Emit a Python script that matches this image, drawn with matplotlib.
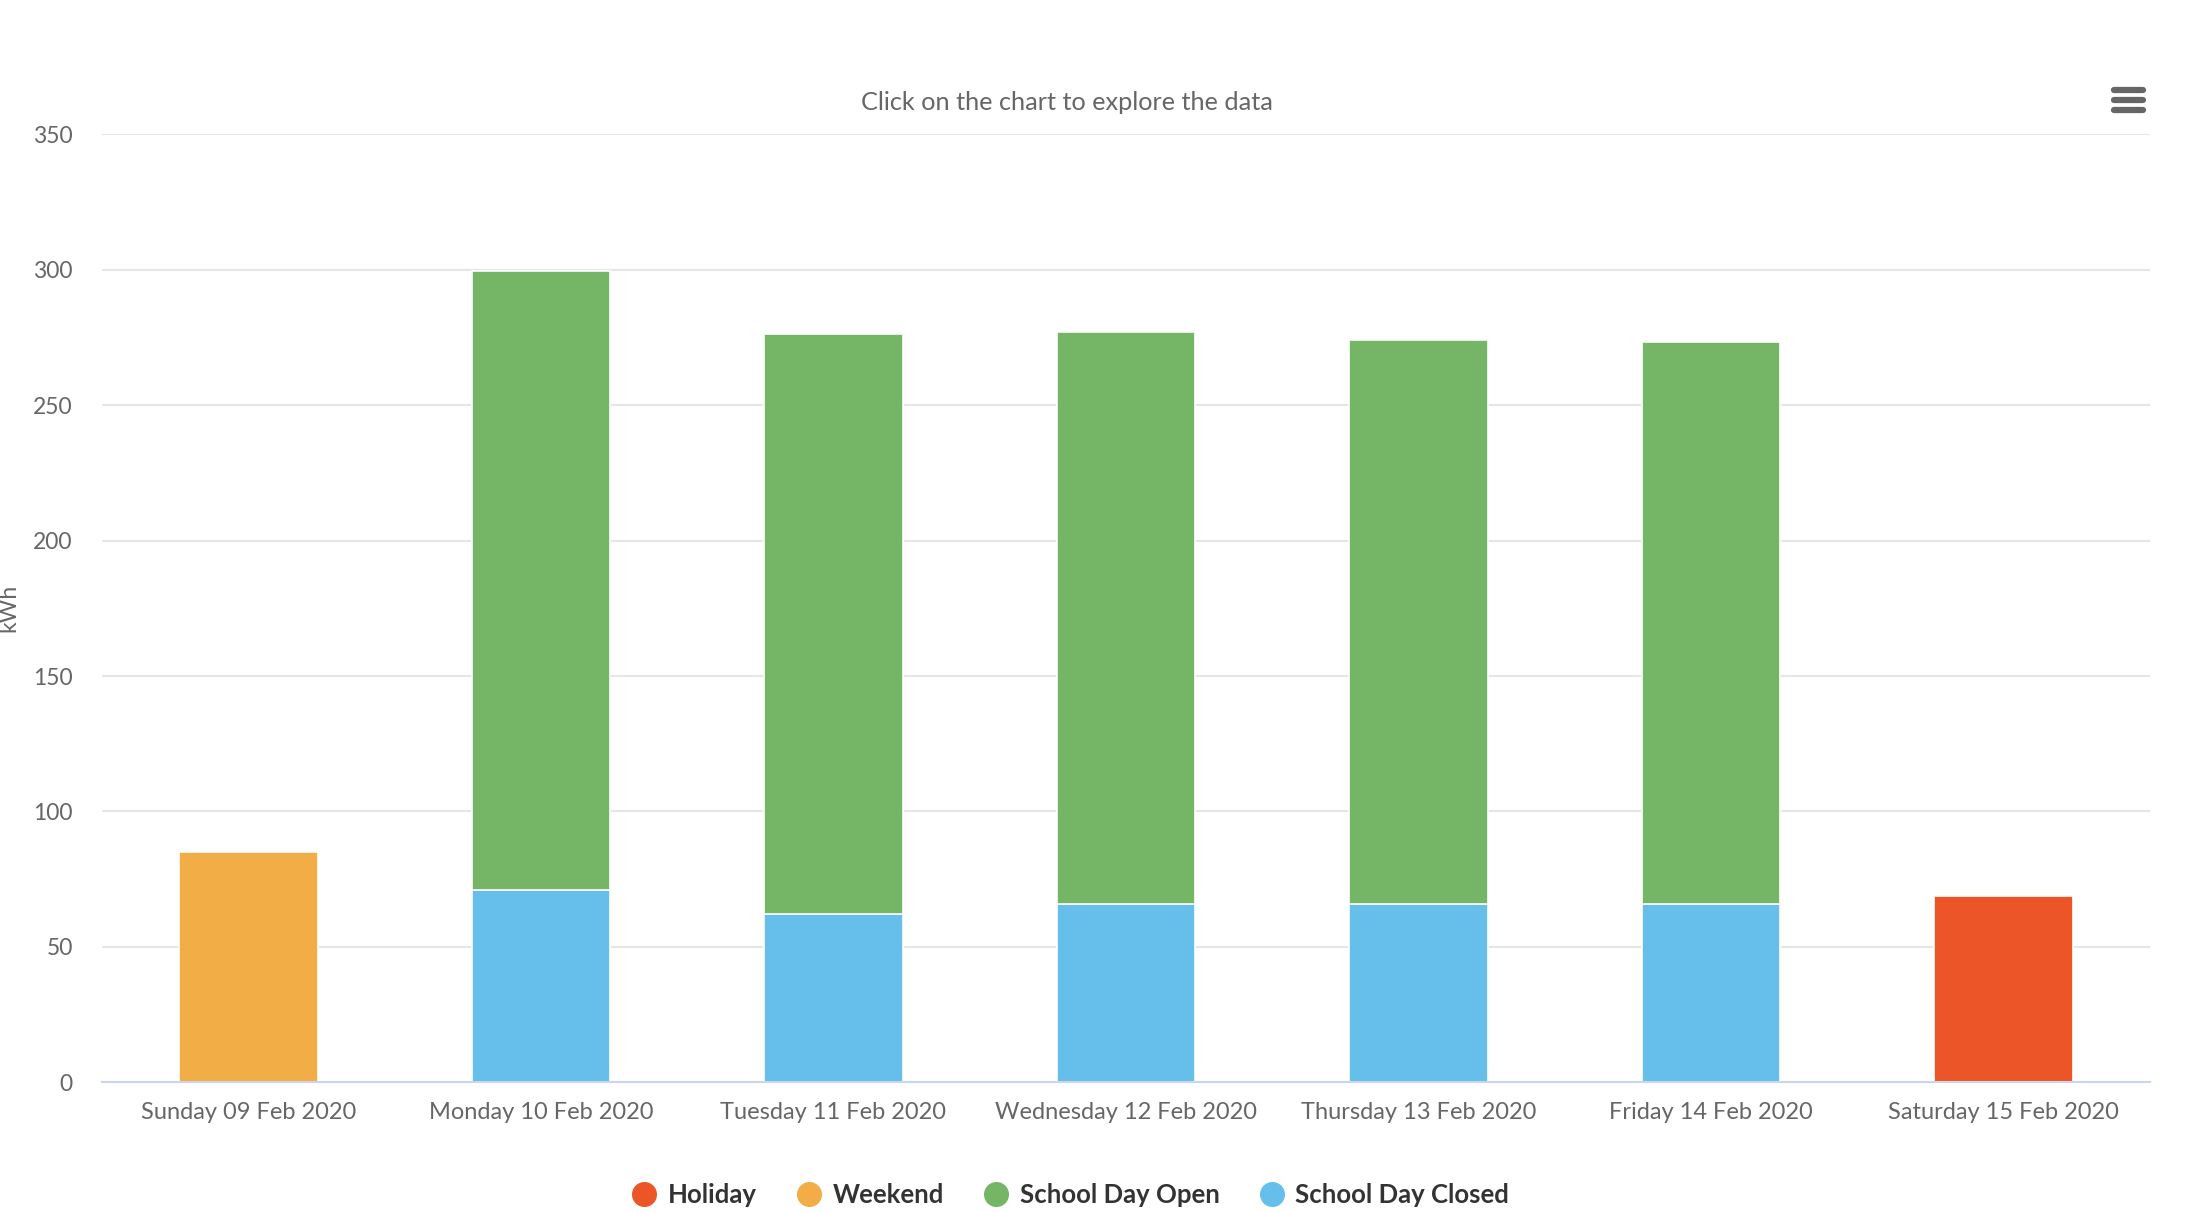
import matplotlib
matplotlib.use("Agg")
import matplotlib.pyplot as plt
from matplotlib.lines import Line2D
import numpy as np

# ---- data ----
categories = ["Sunday 09 Feb 2020", "Monday 10 Feb 2020", "Tuesday 11 Feb 2020",
              "Wednesday 12 Feb 2020", "Thursday 13 Feb 2020", "Friday 14 Feb 2020",
              "Saturday 15 Feb 2020"]
holiday = [0, 0, 0, 0, 0, 0, 68.6]
weekend = [85.2, 0, 0, 0, 0, 0, 0]
school_day_closed = [0, 71.0, 62.2, 65.8, 65.8, 65.8, 0]
school_day_open = [0, 228.6, 214.2, 211.2, 208.2, 207.6, 0]
y_ticks = [0, 50, 100, 150, 200, 250, 300, 350]

series_names = ["Holiday", "Weekend", "School Day Open", "School Day Closed"]
colors = {"Holiday": "#ec5527", "Weekend": "#f3ad46",
          "School Day Open": "#74b665", "School Day Closed": "#66bfeb"}

plt.rcParams['font.family'] = ['Lato', 'DejaVu Sans']

W, H = 2194, 1212
fig = plt.figure(figsize=(W / 100, H / 100), dpi=100)
ax = fig.add_axes([102 / W, 1 - 1082.3 / H, (2150 - 102) / W, (1082.3 - 134.3) / H])

x = np.arange(len(categories))
bw = 0.474
edge = dict(edgecolor="white", linewidth=1.2)

closed = np.array(school_day_closed)
ax.bar(x, closed, bw, color=colors["School Day Closed"], zorder=3, **edge)
ax.bar(x, school_day_open, bw, bottom=closed, color=colors["School Day Open"], zorder=3, **edge)
ax.bar(x, weekend, bw, color=colors["Weekend"], zorder=3, **edge)
ax.bar(x, holiday, bw, color=colors["Holiday"], zorder=3, **edge)

ax.set_xlim(-0.5, len(categories) - 0.5)
ax.set_ylim(0, 350)
ax.set_yticks(y_ticks)
ax.set_xticks(x)
ax.set_xticklabels(categories)
ax.grid(axis="y", color="#e6e6e6", linewidth=1.5, zorder=0)
ax.set_axisbelow(True)
for s in ["top", "right", "left"]:
    ax.spines[s].set_visible(False)
ax.spines["bottom"].set_color("#ccd6eb")
ax.spines["bottom"].set_linewidth(1.5)
ax.spines["bottom"].set_zorder(4)
ax.tick_params(axis="y", length=0, pad=21, labelsize=16.5, labelcolor="#666666")
ax.tick_params(axis="x", length=0, pad=14, labelsize=17, labelcolor="#666666")

fig.text(9 / W, 1 - 608 / H, "kWh", rotation=90, ha="center", va="center",
         fontsize=16.5, color="#666666")

fig.text(1067 / W, 1 - 103 / H, "Click on the chart to explore the data",
         ha="center", va="center", fontsize=18.2, color="#666666")

# hamburger menu icon
for yy in (89.5, 99.5, 109.5):
    fig.add_artist(Line2D([2114 / W, 2143 / W], [1 - yy / H, 1 - yy / H],
                          color="#666666", linewidth=4.5, solid_capstyle="round",
                          transform=fig.transFigure))

handles = [Line2D([], [], marker="o", linestyle="none", markersize=17,
                  markerfacecolor=colors[n], markeredgecolor=colors[n]) for n in series_names]
leg = fig.legend(handles, series_names, loc="center", bbox_to_anchor=(1071 / W, 1 - 1195 / H),
                 ncol=4, frameon=False, handlelength=0.9, handletextpad=0.45,
                 columnspacing=1.6, prop=dict(size=18.5, weight="bold"))
for t in leg.get_texts():
    t.set_color("#333333")

fig.savefig("out.png", dpi=100, facecolor="white")
